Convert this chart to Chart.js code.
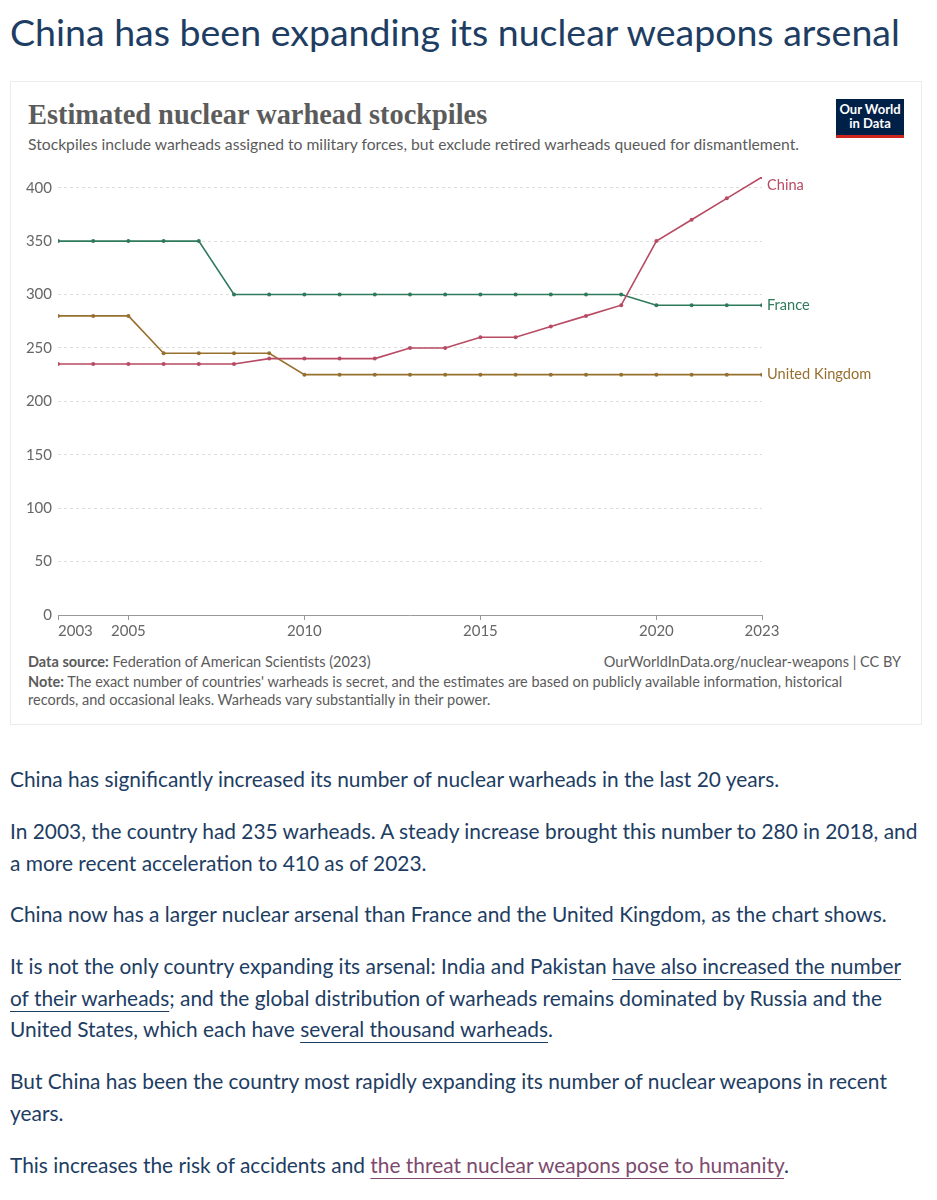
<!DOCTYPE html>
<html>
<head>
<meta charset="utf-8">
<script src="https://cdn.jsdelivr.net/npm/chart.js@4.4.0/dist/chart.umd.min.js"></script>
<style>
  html, body { margin: 0; padding: 0; background: #fff; }
  body { width: 937px; height: 1200px; position: relative; overflow: hidden; font-family: Lato, "Noto Sans", sans-serif; }
  #h1 { position: absolute; left: 10px; top: 9px; font-size: 37.5px; line-height: 46px; color: #1d3d63; font-weight: 400; white-space: nowrap; }
  #card { position: absolute; left: 10px; top: 81px; width: 910px; height: 642px; border: 1px solid #ececec; }
  #ctitle { position: absolute; left: 28px; top: 99px; font-family: "Liberation Serif", "DejaVu Serif", serif; font-weight: 700; font-size: 28.4px; color: #5b5b5b; white-space: nowrap; }
  #csub { position: absolute; left: 28px; top: 135px; font-size: 15.7px; color: #5b5b5b; white-space: nowrap; }
  #logo { position: absolute; left: 836px; top: 99px; width: 68px; background: #002147; border-bottom: 3px solid #ce261e; color: #fff; font-weight: 700; font-size: 13px; line-height: 13.5px; text-align: center; padding-top: 4px; height: 32px; box-sizing: content-box; }
  #wrap { position: absolute; left: 10px; top: 160px; width: 912px; height: 490px; }
  .foot { position: absolute; font-size: 14.5px; color: #5b5b5b; white-space: nowrap; line-height: 17.5px; }
  .body { position: absolute; left: 10px; font-size: 20.9px; color: #1d3d63; line-height: 31.5px; white-space: nowrap; }
  .body a { color: #1d3d63; text-decoration: underline; text-underline-offset: 5px; text-decoration-thickness: 1px; }
  .body a.pk { color: #7d4a6e; }
</style>
</head>
<body>
<div id="h1">China has been expanding its nuclear weapons arsenal</div>
<div id="card"></div>
<div id="ctitle">Estimated nuclear warhead stockpiles</div>
<div id="csub">Stockpiles include warheads assigned to military forces, but exclude retired warheads queued for dismantlement.</div>
<div id="logo">Our World<br>in Data</div>
<div id="wrap"><canvas id="c" width="912" height="490"></canvas></div>
<div class="foot" style="left:28px; top:653px;"><b>Data source:</b> Federation of American Scientists (2023)</div>
<div class="foot" style="right:36px; top:653px;">OurWorldInData.org/nuclear-weapons | CC BY</div>
<div class="foot" style="left:28px; top:673px;"><b>Note:</b> The exact number of countries' warheads is secret, and the estimates are based on publicly available information, historical<br>records, and occasional leaks. Warheads vary substantially in their power.</div>

<div class="body" style="top:763px;">China has significantly increased its number of nuclear warheads in the last 20 years.</div>
<div class="body" style="top:815px;">In 2003, the country had 235 warheads. A steady increase brought this number to 280 in 2018, and<br>a more recent acceleration to 410 as of 2023.</div>
<div class="body" style="top:898px;">China now has a larger nuclear arsenal than France and the United Kingdom, as the chart shows.</div>
<div class="body" style="top:950px;">It is not the only country expanding its arsenal: India and Pakistan <a>have also increased the number</a><br><a>of their warheads</a>; and the global distribution of warheads remains dominated by Russia and the<br>United States, which each have <a>several thousand warheads</a>.</div>
<div class="body" style="top:1065px;">But China has been the country most rapidly expanding its number of nuclear weapons in recent<br>years.</div>
<div class="body" style="top:1149px;">This increases the risk of accidents and <a class="pk">the threat nuclear weapons pose to humanity</a>.</div>

<script>
const years = [2003, 2004, 2005, 2006, 2007, 2008, 2009, 2010, 2011, 2012, 2013, 2014, 2015, 2016, 2017, 2018, 2019, 2020, 2021, 2022, 2023];
const china = [235, 235, 235, 235, 235, 235, 240, 240, 240, 240, 250, 250, 260, 260, 270, 280, 290, 350, 370, 390, 410];
const france = [350, 350, 350, 350, 350, 300, 300, 300, 300, 300, 300, 300, 300, 300, 300, 300, 300, 290, 290, 290, 290];
const uk = [280, 280, 280, 245, 245, 245, 245, 225, 225, 225, 225, 225, 225, 225, 225, 225, 225, 225, 225, 225, 225];
const xTicks = [2003, 2005, 2010, 2015, 2020, 2023];
const yTicks = [0, 50, 100, 150, 200, 250, 300, 350, 400];

const series = [
  { label: 'China', values: china, color: '#b84a63' },
  { label: 'France', values: france, color: '#2f7a5c' },
  { label: 'United Kingdom', values: uk, color: '#97702f' }
];

const endLabels = {
  id: 'endLabels',
  afterDatasetsDraw(chart) {
    const ctx = chart.ctx;
    ctx.save();
    ctx.font = '14.6px Lato';
    ctx.textBaseline = 'middle';
    ctx.textAlign = 'left';
    chart.data.datasets.forEach((ds, i) => {
      const meta = chart.getDatasetMeta(i);
      const pt = meta.data[meta.data.length - 1];
      const y = Math.max(pt.y, chart.chartArea.top + 8);
      ctx.fillStyle = ds.borderColor;
      ctx.fillText(ds.label, pt.x + 5, y);
    });
    ctx.restore();
  }
};

Chart.defaults.font.family = 'Lato';
new Chart(document.getElementById('c'), {
  type: 'line',
  data: {
    datasets: series.map(s => ({
      label: s.label,
      data: years.map((y, i) => ({ x: y, y: s.values[i] })),
      borderColor: s.color,
      backgroundColor: s.color,
      borderWidth: 1.6,
      pointRadius: 2,
      pointBorderWidth: 0,
      tension: 0
    }))
  },
  options: {
    responsive: false,
    animation: false,
    layout: { padding: { left: 0, right: 160, top: 17, bottom: 0 } },
    plugins: { legend: { display: false }, tooltip: { enabled: false } },
    scales: {
      x: {
        type: 'linear', min: 2003, max: 2023,
        afterBuildTicks: s => { s.ticks = xTicks.map(v => ({ value: v })); },
        afterFit: s => { s.height = 35; },
        grid: { drawOnChartArea: false, drawTicks: true, tickLength: 5, color: '#999' },
        border: { display: true, color: '#999' },
        ticks: {
          color: '#666', font: { size: 15 }, padding: 2, maxRotation: 0, autoSkip: false,
          callback: v => v === 2003 ? '\u2007\u2007\u2007\u20072003' : String(v)
        }
      },
      y: {
        min: 0, max: 410,
        afterBuildTicks: s => { s.ticks = yTicks.map(v => ({ value: v })); },
        afterFit: s => { s.width = 48; },
        grid: { color: '#dddddd', drawTicks: false, lineWidth: 1 },
        border: { display: false, dash: [3, 3] },
        ticks: { color: '#666', font: { size: 15 }, padding: 6 }
      }
    }
  },
  plugins: [endLabels]
});
</script>
</body>
</html>
